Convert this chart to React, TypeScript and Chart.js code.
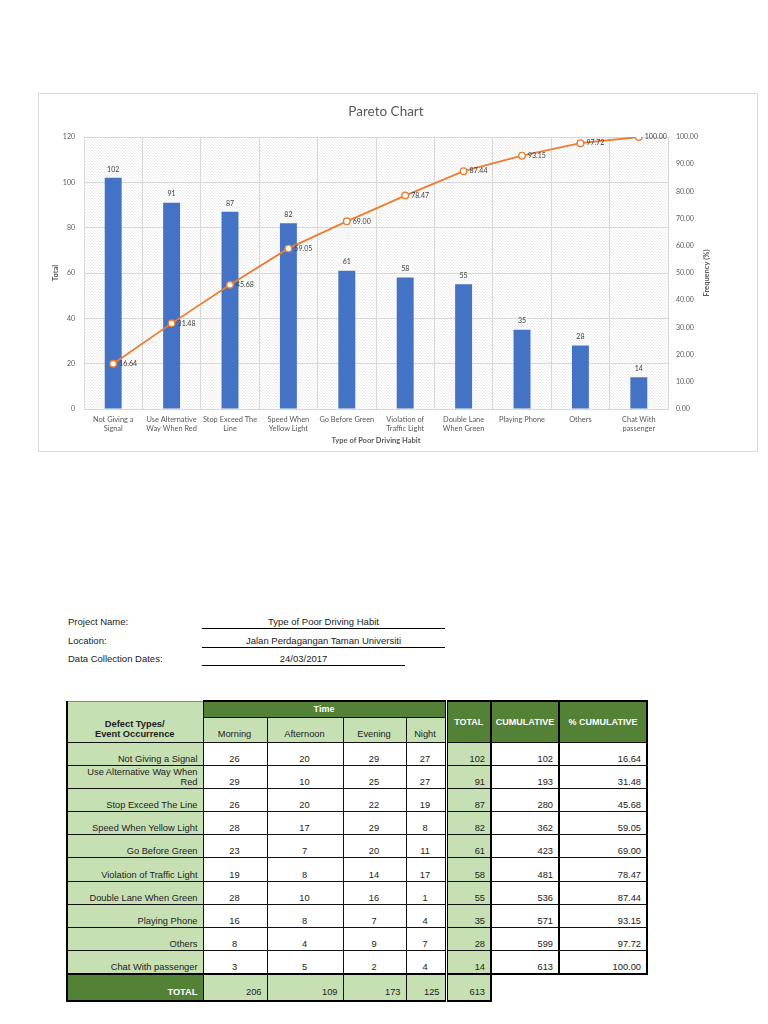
import React, { useEffect, useRef } from "react";
import { Chart, registerables } from "chart.js";

Chart.register(...registerables);

// ---------- data ----------
const categoryLabels: string[][] = [
  ["Not Giving a", "Signal"],
  ["Use Alternative", "Way When Red"],
  ["Stop Exceed The", "Line"],
  ["Speed When", "Yellow Light"],
  ["Go Before Green"],
  ["Violation of", "Traffic Light"],
  ["Double Lane", "When Green"],
  ["Playing Phone"],
  ["Others"],
  ["Chat With", "passenger"],
];
const defectTypes: string[] = [
  "Not Giving a Signal",
  "Use Alternative Way When Red",
  "Stop Exceed The Line",
  "Speed When Yellow Light",
  "Go Before Green",
  "Violation of Traffic Light",
  "Double Lane When Green",
  "Playing Phone",
  "Others",
  "Chat With passenger",
];
const totals: number[] = [102, 91, 87, 82, 61, 58, 55, 35, 28, 14];
const percentCumulative: number[] = [16.64, 31.48, 45.68, 59.05, 69.0, 78.47, 87.44, 93.15, 97.72, 100.0];
const cumulative: number[] = [102, 193, 280, 362, 423, 481, 536, 571, 599, 613];
const morning: number[] = [26, 29, 26, 28, 23, 19, 28, 16, 8, 3];
const afternoon: number[] = [20, 10, 20, 17, 7, 8, 10, 8, 4, 5];
const evening: number[] = [29, 25, 22, 29, 20, 14, 16, 7, 9, 2];
const night: number[] = [27, 27, 19, 8, 11, 17, 1, 4, 7, 4];
const columnTotals: number[] = [206, 109, 173, 125, 613];
const timeHeaders: string[] = ["Morning", "Afternoon", "Evening", "Night"];

const FONT = "Lato, 'Noto Sans', sans-serif";
const LIGHT_GREEN = "#C6E0B4";
const DARK_GREEN = "#538135";

const hatchPlugin = {
  id: "hatch",
  beforeDraw(chart: any) {
    const { ctx, chartArea: a } = chart;
    const pc = document.createElement("canvas");
    pc.width = 3;
    pc.height = 3;
    const p = pc.getContext("2d")!;
    p.fillStyle = "#ffffff";
    p.fillRect(0, 0, 3, 3);
    p.strokeStyle = "#ececec";
    p.lineWidth = 1;
    p.beginPath();
    p.moveTo(0, 0);
    p.lineTo(3, 3);
    p.stroke();
    const pat = ctx.createPattern(pc, "repeat");
    ctx.save();
    ctx.fillStyle = pat;
    ctx.fillRect(a.left, a.top, a.right - a.left, a.bottom - a.top);
    ctx.restore();
  },
};

const labelPlugin = {
  id: "valueLabels",
  afterDatasetsDraw(chart: any) {
    const ctx = chart.ctx;
    ctx.save();
    ctx.font = `7px ${FONT}`;
    ctx.fillStyle = "#404040";
    const barMeta = chart.getDatasetMeta(0);
    barMeta.data.forEach((el: any, i: number) => {
      ctx.textAlign = "center";
      ctx.textBaseline = "bottom";
      ctx.fillText(String(totals[i]), el.x, el.y - 5);
    });
    const lineMeta = chart.getDatasetMeta(1);
    lineMeta.data.forEach((el: any, i: number) => {
      ctx.textAlign = "left";
      ctx.textBaseline = "middle";
      ctx.fillText(percentCumulative[i].toFixed(2), el.x + 6, el.y);
    });
    // chart title
    ctx.font = `13.5px ${FONT}`;
    ctx.fillStyle = "#595959";
    ctx.textAlign = "center";
    ctx.textBaseline = "middle";
    ctx.fillText("Pareto Chart", 347, 17.5);
    // right axis title
    const y1 = chart.scales.y1;
    ctx.font = `bold 7.5px ${FONT}`;
    ctx.translate(y1.right - 50, (chart.chartArea.top + chart.chartArea.bottom) / 2);
    ctx.rotate(-Math.PI / 2);
    ctx.fillText("Frequency (%)", 0, 0);
    ctx.restore();
  },
};

function ParetoChart() {
  const ref = useRef<HTMLCanvasElement | null>(null);
  useEffect(() => {
    if (!ref.current) return;
    const tickFont = { family: FONT, size: 7 };
    const chart = new Chart(ref.current, {
      type: "bar",
      data: {
        labels: categoryLabels,
        datasets: [
          {
            type: "bar",
            label: "Total",
            data: totals,
            backgroundColor: "#4472C4",
            barPercentage: 0.29,
            categoryPercentage: 1,
            yAxisID: "y",
            order: 1,
          },
          {
            type: "line",
            label: "Frequency (%)",
            data: percentCumulative,
            borderColor: "#ED7D31",
            borderWidth: 1.8,
            pointRadius: 3.3,
            pointBackgroundColor: "#ffffff",
            pointBorderColor: "#ED7D31",
            pointBorderWidth: 1.4,
            tension: 0,
            yAxisID: "y1",
            order: 0,
          } as any,
        ],
      },
      options: {
        animation: false,
        responsive: true,
        maintainAspectRatio: false,
        layout: { padding: { top: 43 } },
        plugins: {
          legend: { display: false },
          tooltip: { enabled: false },
          title: { display: false },
        },
        scales: {
          x: {
            grid: { color: "#d9d9d9", offset: true, drawTicks: false },
            border: { color: "#d9d9d9" },
            ticks: { color: "#595959", font: { family: FONT, size: 7.4 }, padding: 6, maxRotation: 0, autoSkip: false },
            title: {
              display: true,
              text: "Type of Poor Driving Habit",
              color: "#595959",
              font: { family: FONT, size: 7.5, weight: "bold" as any, lineHeight: 1.2 },
              padding: { top: 0, bottom: 5.5 },
            },
            afterFit: (s: any) => {
              s.height = 42;
            },
          },
          y: {
            position: "left",
            min: 0,
            max: 120,
            ticks: { stepSize: 20, color: "#595959", font: tickFont, padding: 9 },
            grid: { color: "#d9d9d9", drawTicks: false },
            border: { display: false },
            title: {
              display: true,
              text: "Total",
              color: "#595959",
              font: { family: FONT, size: 7.5, weight: "bold" as any, lineHeight: 1.2 },
              padding: { top: 12, bottom: 0 },
            },
            afterFit: (s: any) => {
              s.width = 45;
            },
          },
          y1: {
            position: "right",
            min: 0,
            max: 100,
            ticks: {
              stepSize: 10,
              color: "#595959",
              font: tickFont,
              padding: 8,
              callback: (v: any) => Number(v).toFixed(2),
            },
            grid: { display: false, drawTicks: false },
            border: { display: false },
            afterFit: (s: any) => {
              s.width = 89;
            },
          },
        },
      },
      plugins: [hatchPlugin, labelPlugin],
    });
    return () => chart.destroy();
  }, []);
  return (
    <div
      style={{
        position: "absolute",
        left: 38,
        top: 93,
        width: 720,
        height: 359,
        border: "1px solid #d9d9d9",
        boxSizing: "border-box",
        background: "#fff",
      }}
    >
      <div style={{ position: "absolute", left: 0, top: 0, width: 718, height: 357 }}>
        <canvas ref={ref} />
      </div>
    </div>
  );
}

const TFONT = "'Liberation Sans', Arial, Helvetica, sans-serif";
const thin = "1px solid #111";
const thick = "2px solid #000";
const dbl = "3px double #000";

function InfoRow({ label, value, top, width }: { label: string; value: string; top: number; width: number }) {
  return (
    <>
      <div style={{ position: "absolute", left: 68, top: top, fontSize: 9.5, lineHeight: "12px", color: "#222" }}>{label}</div>
      <div
        style={{
          position: "absolute",
          left: 202,
          top: top,
          width: width,
          height: 12,
          borderBottom: "1px solid #000",
          textAlign: "center",
          fontSize: 9.5,
          lineHeight: "12px",
          color: "#222",
        }}
      >
        {value}
      </div>
    </>
  );
}

function DataTable() {
  const base: React.CSSProperties = {
    fontSize: 9.3,
    lineHeight: "10px",
    padding: "0 5px 1px 4px",
    verticalAlign: "bottom",
    color: "#222",
    border: thin,
    overflow: "hidden",
    whiteSpace: "nowrap",
  };
  const headDark: React.CSSProperties = {
    ...base,
    background: DARK_GREEN,
    color: "#fff",
    fontWeight: "bold",
    textAlign: "center",
    verticalAlign: "middle",
    borderTop: thick,
    padding: "0 2px",
    fontSize: 9,
  };
  return (
    <table
      style={{
        position: "absolute",
        left: 66,
        top: 700,
        borderCollapse: "collapse",
        tableLayout: "fixed",
        width: 580,
        fontFamily: TFONT,
      }}
    >
      <colgroup>
        <col style={{ width: 136 }} />
        <col style={{ width: 64 }} />
        <col style={{ width: 76 }} />
        <col style={{ width: 63 }} />
        <col style={{ width: 40 }} />
        <col style={{ width: 45 }} />
        <col style={{ width: 68 }} />
        <col style={{ width: 88 }} />
      </colgroup>
      <tbody>
        <tr style={{ height: 16 }}>
          <td
            rowSpan={2}
            style={{
              ...base,
              background: LIGHT_GREEN,
              fontWeight: "bold",
              textAlign: "center",
              borderLeft: thick,
              borderTop: "1px solid #888",
              paddingBottom: 3,
            }}
          >
            Defect Types/
            <br />
            Event Occurrence
          </td>
          <td colSpan={4} style={{ ...headDark, borderRight: dbl }}>
            Time
          </td>
          <td rowSpan={2} style={{ ...headDark, borderRight: thick, borderLeft: dbl }}>
            TOTAL
          </td>
          <td rowSpan={2} style={{ ...headDark, borderRight: thick }}>
            CUMULATIVE
          </td>
          <td rowSpan={2} style={{ ...headDark, borderRight: thick }}>
            % CUMULATIVE
          </td>
        </tr>
        <tr style={{ height: 25 }}>
          {timeHeaders.map((h, i) => (
            <td
              key={h}
              style={{
                ...base,
                background: LIGHT_GREEN,
                textAlign: "center",
                paddingBottom: 3,
                borderRight: i === 3 ? dbl : thin,
              }}
            >
              {h}
            </td>
          ))}
        </tr>
        {defectTypes.map((d, i) => (
          <tr key={d} style={{ height: 23.2 }}>
            <td style={{ ...base, background: LIGHT_GREEN, textAlign: "right", borderLeft: thick }}>
              {d === "Use Alternative Way When Red" ? (
                <>
                  Use Alternative Way When
                  <br />
                  Red
                </>
              ) : (
                d
              )}
            </td>
            <td style={{ ...base, textAlign: "center" }}>{morning[i]}</td>
            <td style={{ ...base, textAlign: "center" }}>{afternoon[i]}</td>
            <td style={{ ...base, textAlign: "center" }}>{evening[i]}</td>
            <td style={{ ...base, textAlign: "center", borderRight: dbl }}>{night[i]}</td>
            <td style={{ ...base, background: LIGHT_GREEN, textAlign: "right", borderRight: thick }}>{totals[i]}</td>
            <td style={{ ...base, textAlign: "right", borderRight: thick }}>{cumulative[i]}</td>
            <td style={{ ...base, textAlign: "right", borderRight: thick }}>{percentCumulative[i].toFixed(2)}</td>
          </tr>
        ))}
        <tr style={{ height: 27 }}>
          <td
            style={{
              ...base,
              background: DARK_GREEN,
              color: "#fff",
              fontWeight: "bold",
              textAlign: "right",
              borderLeft: thick,
              borderTop: thick,
              borderBottom: thick,
              paddingBottom: 3,
            }}
          >
            TOTAL
          </td>
          {columnTotals.map((v, i) => (
            <td
              key={i}
              style={{
                ...base,
                background: LIGHT_GREEN,
                textAlign: "right",
                borderTop: thick,
                borderBottom: thick,
                borderRight: i === 4 ? thick : i === 3 ? dbl : thin,
                paddingBottom: 3,
              }}
            >
              {v}
            </td>
          ))}
          <td style={{ border: "none", borderTop: thick }} />
          <td style={{ border: "none", borderTop: thick }} />
        </tr>
      </tbody>
    </table>
  );
}

export default function App() {
  return (
    <div
      style={{
        position: "absolute",
        left: 0,
        top: 0,
        width: 768,
        height: 1024,
        background: "#fff",
        fontFamily: TFONT,
        overflow: "hidden",
      }}
    >
      <ParetoChart />
      <InfoRow label="Project Name:" value="Type of Poor Driving Habit" top={616} width={243} />
      <InfoRow label="Location:" value="Jalan Perdagangan Taman Universiti" top={635} width={243} />
      <InfoRow label="Data Collection Dates:" value="24/03/2017" top={653} width={203} />
      <DataTable />
    </div>
  );
}
